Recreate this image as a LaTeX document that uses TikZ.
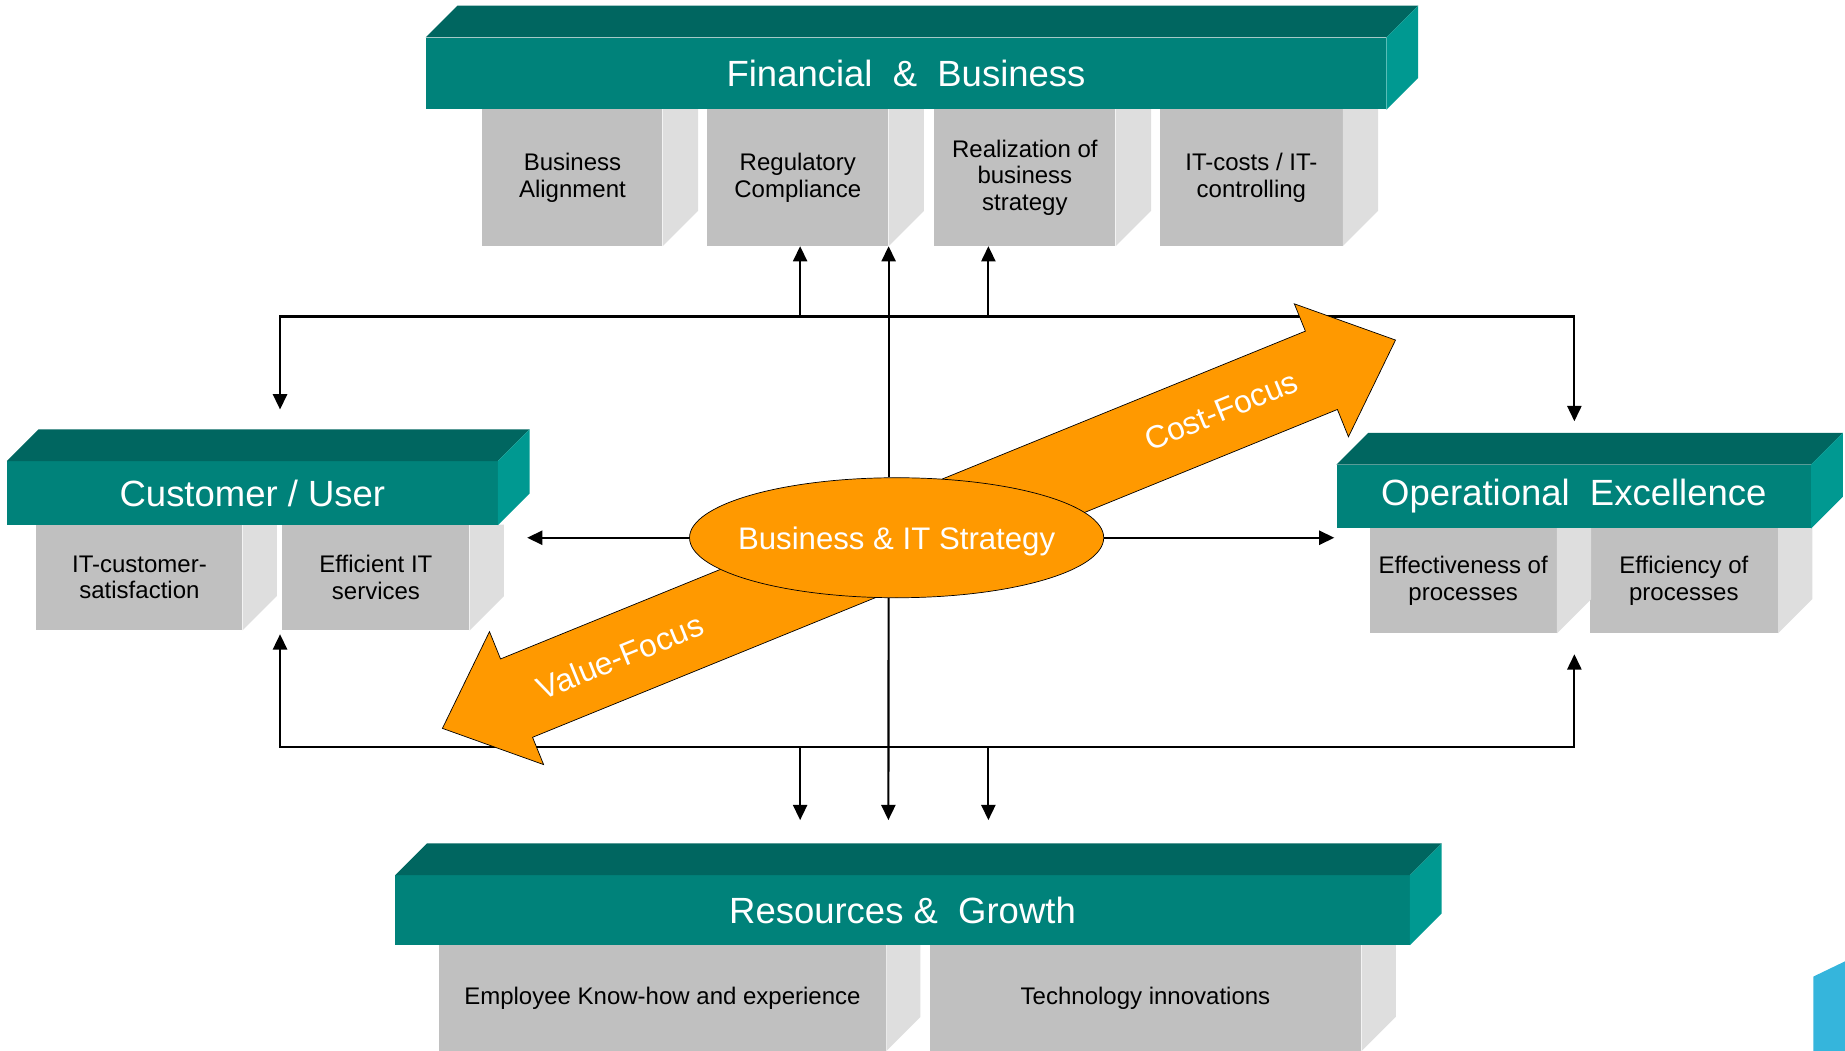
\documentclass[tikz,border=0pt]{standalone}
\usepackage{fontspec}
\setmainfont{Liberation Sans}
\usetikzlibrary{arrows.meta,shapes.geometric}
\definecolor{tealfront}{RGB}{0,130,122}
\definecolor{tealtop}{RGB}{0,102,96}
\definecolor{tealside}{RGB}{0,153,145}
\definecolor{boxfront}{RGB}{192,192,192}
\definecolor{boxside}{RGB}{222,222,222}
\definecolor{orangeA}{RGB}{255,153,0}
\definecolor{blueA}{RGB}{53,181,220}
\pgfdeclarelayer{lines}
\pgfsetlayers{lines,main}
\newcommand\SideFace[2]{\fill[boxside] (#1.north east) -- (#1.south east) -- ++(#2,-#2) |- (#1.north east) -- cycle;}
\newcommand\BarFaces[2]{%
  \fill[tealtop] (#1.north west) -- ++(#2,-#2) -- ([shift={(#2,-#2)}]#1.north east) -- (#1.north east) -- cycle;
  \fill[tealside] (#1.north east) -- ++(#2,-#2) -- ([shift={(#2,-#2)}]#1.south east) -- (#1.south east) -- cycle;}
\begin{document}
\begin{tikzpicture}[x=1pt,y=-1pt,
  conn/.style={line width=1.8pt, draw=black},
  arr/.style={conn, -{Triangle[length=13pt,width=12pt]}},
  bartitle/.style={fill=tealfront, inner sep=0pt, text=white, font=\fontsize{31}{34}\selectfont},
  subbox/.style={fill=boxfront, inner sep=0pt, align=center, text=black, font=\fontsize{20.4}{22.5}\selectfont},
  focuslabel/.style={text=white, inner sep=0pt, font=\fontsize{27}{30}\selectfont, rotate=22.2},
  strategy/.style={ellipse, fill=orangeA, draw=black, line width=0.6pt, inner sep=0pt},
  strategytext/.style={text=white, inner sep=0pt, font=\fontsize{26.5}{30}\selectfont},
  bigarrow/.style={fill=orangeA, draw=black, line width=0.6pt, line join=miter}
]
\useasboundingbox (0,0) rectangle (1568,892.4);
\clip (0,0) rectangle (1568,892.4);

% ---- Financial & Business
\node[subbox, minimum width=153pt, minimum height=116pt] (fb1) at (486.5,151) {Business\\Alignment};
\node[subbox, minimum width=154pt, minimum height=116pt] (fb2) at (678,151) {Regulatory\\Compliance};
\node[subbox, minimum width=154pt, minimum height=116pt] (fb3) at (871,151) {Realization of\\business\\strategy};
\node[subbox, minimum width=155pt, minimum height=116pt] (fb4) at (1063.5,151) {IT-costs / IT-\\controlling};
\SideFace{fb1}{30}\SideFace{fb2}{30}\SideFace{fb3}{30}\SideFace{fb4}{30}
\node[bartitle, minimum width=816pt, minimum height=61pt] (fbbar) at (770,62.5) {Financial\ \ \&\ \ Business};
\BarFaces{fbbar}{27}

% ---- Customer / User
\node[subbox, minimum width=175pt, minimum height=89.5pt] (cu1) at (118.5,490.75) {IT-customer-\\satisfaction};
\node[subbox, minimum width=159pt, minimum height=89.5pt] (cu2) at (319.5,490.75) {Efficient IT\\services};
\SideFace{cu1}{29}\SideFace{cu2}{29}
\node[bartitle, minimum width=417pt, minimum height=54pt] (cubar) at (214.5,419) {Customer / User};
\BarFaces{cubar}{27}

% ---- Operational Excellence
\node[subbox, minimum width=159pt, minimum height=89pt] (op1) at (1243.5,493.5) {Effectiveness of\\processes};
\node[subbox, minimum width=160pt, minimum height=89pt] (op2) at (1431,493.5) {Efficiency of\\processes};
\SideFace{op1}{29}\SideFace{op2}{29}
\node[bartitle, minimum width=403pt, minimum height=54pt] (opbar) at (1337.5,422) {Operational\ \ Excellence};
\BarFaces{opbar}{27}

% ---- Resources & Growth
\node[subbox, minimum width=380pt, minimum height=90pt] (rg1) at (563,848) {Employee Know-how and experience};
\node[subbox, minimum width=367pt, minimum height=90pt] (rg2) at (973.5,848) {Technology innovations};
\SideFace{rg1}{29}\SideFace{rg2}{29}
\node[bartitle, minimum width=862pt, minimum height=59pt] (rgbar) at (767,773.5) {Resources \&\ \ Growth};
\BarFaces{rgbar}{27}

% ---- orange double arrow
\draw[bigarrow] (1100.0,258.2) -- (1186,289) -- (1146.0,371.2) -- (1136.6,348.0)
  -- (452.6,626.6) -- (462.0,649.8) -- (376,619) -- (416.0,536.8) -- (425.4,560.0)
  -- (1109.4,281.4) -- cycle;
\node[focuslabel] (cost) at (1038,349) {Cost-Focus};
\node[focuslabel] (value) at (527,558) {Value-Focus};

% ---- central ellipse
\node[strategy, minimum width=352pt, minimum height=102pt] (ell) at (762,457) {};
\node[strategytext, yshift=-3pt] (elltext) at (ell.center) {Business \& IT Strategy};

% ---- connectors
\coordinate (tl) at (238,269);
\coordinate (tr) at (1338,269);
\coordinate (ta) at (680,269);
\coordinate (tc) at (840,269);
\coordinate (custIn) at (238,348);
\coordinate (opIn) at (1338,358);
\coordinate (bl) at (238,634.5);
\coordinate (br) at (1338,634.5);
\coordinate (ba) at (680,634.5);
\coordinate (bc) at (840,634.5);
\coordinate (custUp) at (238,539);
\coordinate (opUp) at (1338,556);
\coordinate (resA) at (680,697);
\coordinate (resB) at (755,697);
\coordinate (resC) at (840,697);
\coordinate (custMid) at (448,457);
\coordinate (opMid) at (1134,457);
\begin{pgfonlayer}{lines}
\draw[arr] (tr) -- (tl) -- (custIn);
\draw[arr] (tl) -- (tr) -- (opIn);
\draw[arr] (ta) -- (ta |- fb2.south);
\draw[arr] (tc) -- (tc |- fb3.south);
\draw[arr] (ell.north -| fb2.south east) -- (fb2.south east);
\draw[arr] (br) -- (bl) -- (custUp);
\draw[arr] (bl) -- (br) -- (opUp);
\draw[arr] (ba) -- (resA);
\draw[arr] (bc) -- (resC);
\draw[arr] (ell.south -| fb2.south east) -- (resB);
\draw[arr] (ell.west) -- (custMid);
\draw[arr] (ell.east) -- (opMid);
\end{pgfonlayer}

% ---- blue corner shape
\fill[blueA] (1541,830) -- (1568,817) -- (1568,893) -- (1541,893) -- cycle;
\end{tikzpicture}
\end{document}
